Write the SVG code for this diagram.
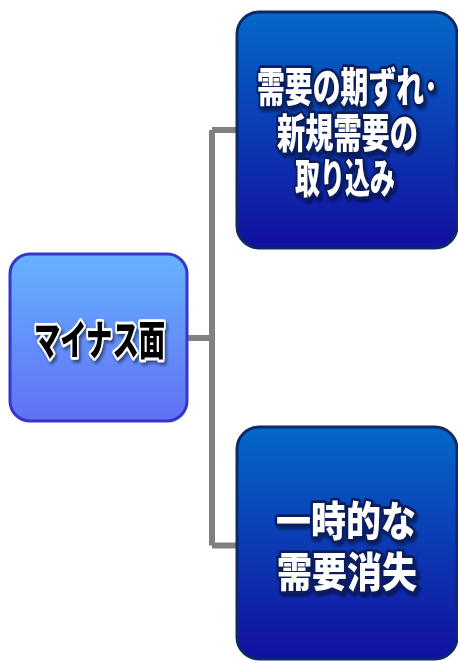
<svg xmlns="http://www.w3.org/2000/svg" width="458" height="661" viewBox="0 0 458 661">
<defs>
<linearGradient id="gBlue" x1="0" y1="0" x2="0" y2="1">
<stop offset="0" stop-color="#0468c8"/>
<stop offset="1" stop-color="#120fa0"/>
</linearGradient>
<linearGradient id="gLight" x1="0" y1="0" x2="0" y2="1">
<stop offset="0" stop-color="#66b2ff"/>
<stop offset="1" stop-color="#6070f4"/>
</linearGradient>
<filter id="sh" x="-20%" y="-20%" width="140%" height="160%">
<feDropShadow dx="2" dy="3" stdDeviation="1.5" flood-color="#000" flood-opacity="0.45"/>
</filter>
</defs>
<style>
.box{stroke-width:3}
.dark{fill:url(#gBlue);stroke:#0c2a68}
.light{fill:url(#gLight);stroke:#3636c8}
.t{font-family:"Noto Sans CJK JP","Noto Sans",sans-serif;font-weight:900;text-anchor:middle;paint-order:stroke;stroke-linejoin:round}
.tw{fill:#fff;stroke:#0a1f5c;stroke-width:5.5;font-size:41px}
.tb{fill:#000;stroke:#fff;stroke-width:5.5;font-size:41px}
.conn{fill:none;stroke:#808080;stroke-width:6}
</style>
<g id="connectors">
<path class="conn" d="M187 338 H212 M212 130 V545.5 M212 130 H238 M212 545.5 H238"/>
</g>
<g id="node-minus">
<rect class="box light" x="10" y="254" width="177" height="167" rx="20"/>
<text class="t tb" x="99.5" y="355" textLength="131" lengthAdjust="spacingAndGlyphs" filter="url(#sh)">マイナス面</text>
</g>
<g id="node-demand-shift">
<rect class="box dark" x="237" y="12" width="220" height="236" rx="22"/>
<g filter="url(#sh)">
<text class="t tw" x="347.5" y="102" textLength="181" lengthAdjust="spacingAndGlyphs">需要の期ずれ･</text>
<text class="t tw" x="347.5" y="148" textLength="141" lengthAdjust="spacingAndGlyphs">新規需要の</text>
<text class="t tw" x="345" y="193" textLength="100" lengthAdjust="spacingAndGlyphs">取り込み</text>
</g>
</g>
<g id="node-demand-loss">
<rect class="box dark" x="237" y="427" width="220" height="232" rx="22"/>
<g filter="url(#sh)">
<text class="t tw" x="346" y="536" textLength="140" lengthAdjust="spacingAndGlyphs">一時的な</text>
<text class="t tw" x="347" y="587" textLength="140" lengthAdjust="spacingAndGlyphs">需要消失</text>
</g>
</g>
</svg>
